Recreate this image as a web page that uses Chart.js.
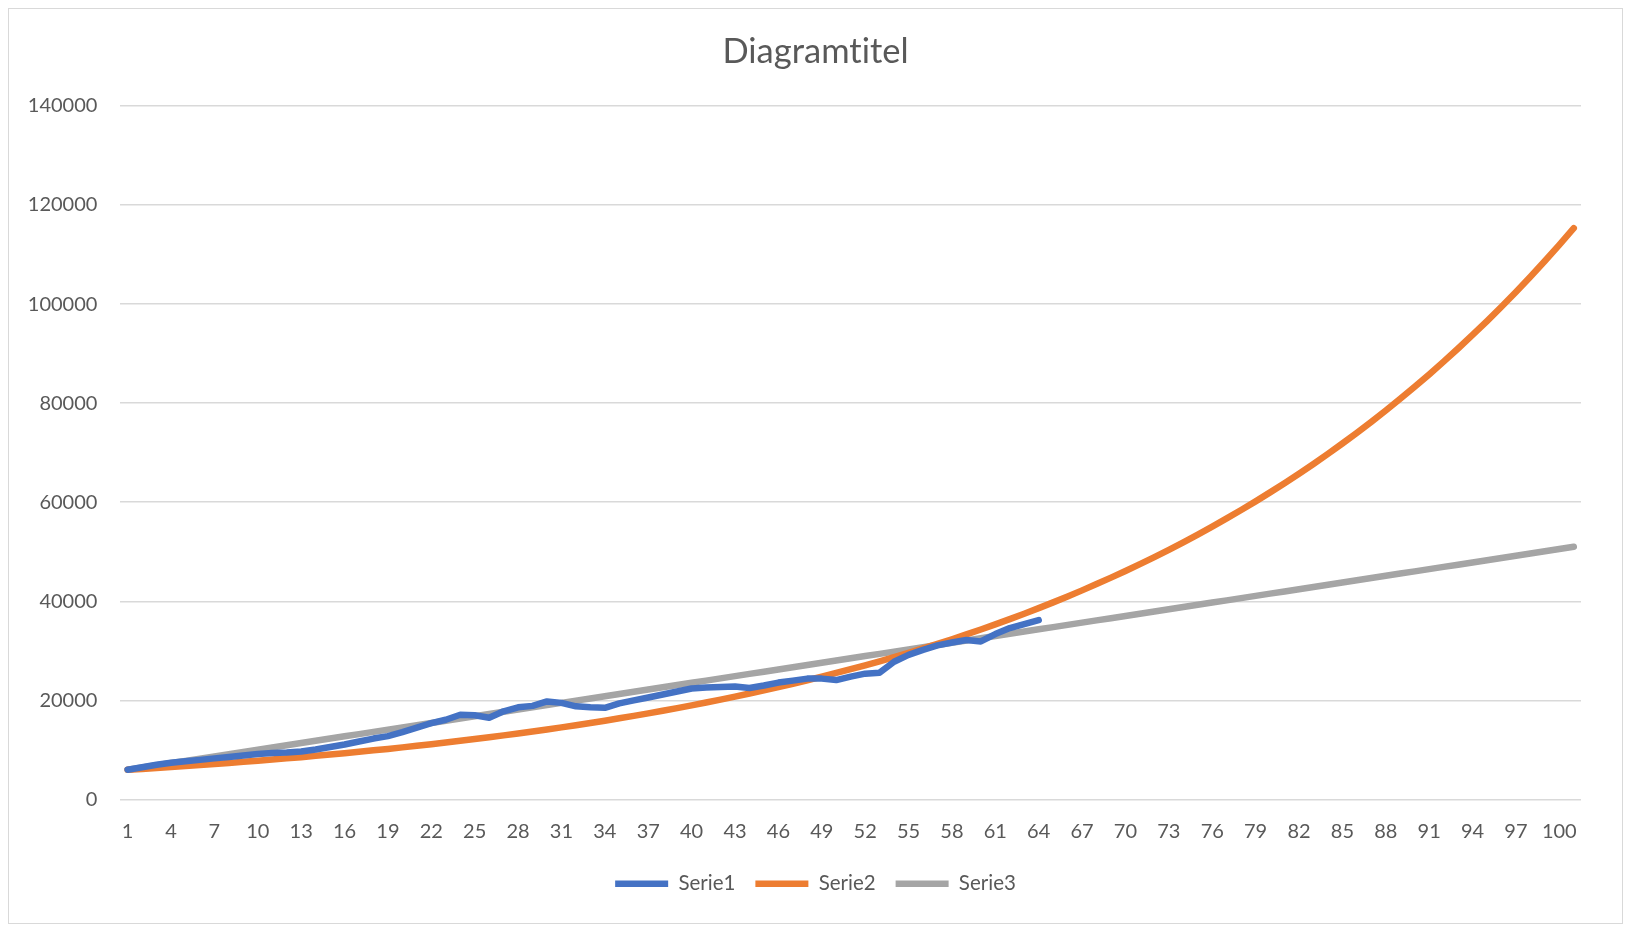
<!DOCTYPE html>
<html>
<head>
<meta charset="utf-8">
<script src="https://cdn.jsdelivr.net/npm/chart.js@4"></script>
<style>
  body { margin: 0; background: #fff; }
  #wrap {
    position: absolute; left: 8px; top: 8px;
    width: 1615px; height: 916px;
    box-sizing: border-box; border: 1px solid #d9d9d9;
  }
</style>
</head>
<body>
<div id="wrap"><canvas id="chart"></canvas></div>
<script>
// Kategorien 1..101
const categories = Array.from({ length: 101 }, (_, i) => String(i + 1));

// Serie1 (nur 64 Werte)
const serie1 = [
  6000, 6500, 7000, 7400, 7700, 8000, 8300, 8600, 8900, 9200,
  9400, 9500, 9700, 10100, 10600, 11100, 11700, 12300, 12800, 13600,
  14500, 15400, 16100, 17100, 17000, 16500, 17800, 18600, 18900, 19800,
  19500, 18800, 18600, 18500, 19400, 20000, 20600, 21200, 21800, 22400,
  22600, 22700, 22800, 22500, 23000, 23600, 24000, 24400, 24400, 24100,
  24800, 25400, 25600, 27800, 29200, 30200, 31100, 31700, 32200, 31900,
  33400, 34600, 35400, 36200
];

const serie2 = [
  6000, 6180, 6370, 6560, 6750, 6960, 7160, 7380, 7600, 7830,
  8060, 8310, 8550, 8810, 9080, 9350, 9630, 9920, 10210, 10520,
  10840, 11160, 11500, 11840, 12200, 12560, 12940, 13330, 13730, 14140,
  14560, 15000, 15450, 15910, 16390, 16880, 17390, 17910, 18450, 19000,
  19570, 20160, 20760, 21390, 22030, 22690, 23370, 24070, 24790, 25540,
  26300, 27090, 27900, 28740, 29600, 30490, 31410, 32350, 33320, 34320,
  35350, 36410, 37500, 38630, 39790, 40980, 42210, 43480, 44780, 46120,
  47510, 48930, 50400, 51910, 53470, 55070, 56730, 58430, 60180, 61990,
  63850, 65760, 67730, 69770, 71860, 74010, 76230, 78520, 80880, 83300,
  85800, 88380, 91030, 93760, 96570, 99470, 102450, 105530, 108690, 111950,
  115310
];

const serie3 = [
  6000, 6450, 6900, 7350, 7800, 8250, 8700, 9150, 9600, 10050,
  10500, 10950, 11400, 11850, 12300, 12750, 13200, 13650, 14100, 14550,
  15000, 15450, 15900, 16350, 16800, 17250, 17700, 18150, 18600, 19050,
  19500, 19950, 20400, 20850, 21300, 21750, 22200, 22650, 23100, 23550,
  24000, 24450, 24900, 25350, 25800, 26250, 26700, 27150, 27600, 28050,
  28500, 28950, 29400, 29850, 30300, 30750, 31200, 31650, 32100, 32550,
  33000, 33450, 33900, 34350, 34800, 35250, 35700, 36150, 36600, 37050,
  37500, 37950, 38400, 38850, 39300, 39750, 40200, 40650, 41100, 41550,
  42000, 42450, 42900, 43350, 43800, 44250, 44700, 45150, 45600, 46050,
  46500, 46950, 47400, 47850, 48300, 48750, 49200, 49650, 50100, 50550,
  51000
];

const textColor = '#595959';
const fontFam = 'Lato, "Open Sans", sans-serif';

function line(label, data, color) {
  return {
    label: label,
    data: data,
    borderColor: color,
    backgroundColor: color,
    borderWidth: 6.5,
    borderCapStyle: 'round',
    borderJoinStyle: 'round',
    pointRadius: 0,
    pointHoverRadius: 0,
    tension: 0,
    fill: false
  };
}

// keine "ti"-Ligatur im Titel
const noLigatures = {
  id: 'noLigatures',
  beforeDraw(chart) { chart.ctx.textRendering = 'optimizeSpeed'; }
};

new Chart(document.getElementById('chart'), {
  type: 'line',
  data: {
    labels: categories,
    datasets: [
      line('Serie1', serie1, '#4472C4'),
      line('Serie2', serie2, '#ED7D31'),
      line('Serie3', serie3, '#A5A5A5')
    ]
  },
  plugins: [noLigatures],
  options: {
    responsive: true,
    maintainAspectRatio: false,
    animation: false,
    layout: { padding: { left: 0, right: 0, top: 0, bottom: 19 } },
    plugins: {
      title: {
        display: true,
        text: 'Diagramtitel',
        color: textColor,
        font: { family: fontFam, size: 34.5, weight: 'normal' },
        padding: { top: 22.5, bottom: 33 }
      },
      legend: {
        position: 'bottom',
        labels: {
          usePointStyle: true,
          pointStyle: 'line',
          pointStyleWidth: 53,
          color: textColor,
          font: { family: fontFam, size: 20.5 },
          padding: 20
        }
      },
      tooltip: { enabled: false }
    },
    scales: {
      x: {
        offset: true,
        grid: { display: false },
        border: { display: false },
        ticks: {
          autoSkip: false,
          maxRotation: 0,
          color: textColor,
          font: { family: fontFam, size: 20 },
          padding: 12,
          callback: (v, i) => (i % 3 === 0 ? categories[i] : '')
        },
        afterFit: s => { s.height = 54; }
      },
      y: {
        min: 0,
        max: 140000,
        grid: { color: '#d9d9d9', lineWidth: 1.5, drawTicks: false },
        border: { display: false },
        ticks: {
          stepSize: 20000,
          color: textColor,
          font: { family: fontFam, size: 20 },
          padding: 23,
          callback: v => String(v)
        },
        afterFit: s => { s.width = 111.4; }
      },
      // leerer rechter Rand, damit die Legende mittig bleibt
      yRight: {
        position: 'right',
        display: true,
        grid: { display: false, drawTicks: false },
        border: { display: false },
        ticks: { display: false },
        afterFit: s => { s.width = 41; }
      }
    }
  }
});
</script>
</body>
</html>
